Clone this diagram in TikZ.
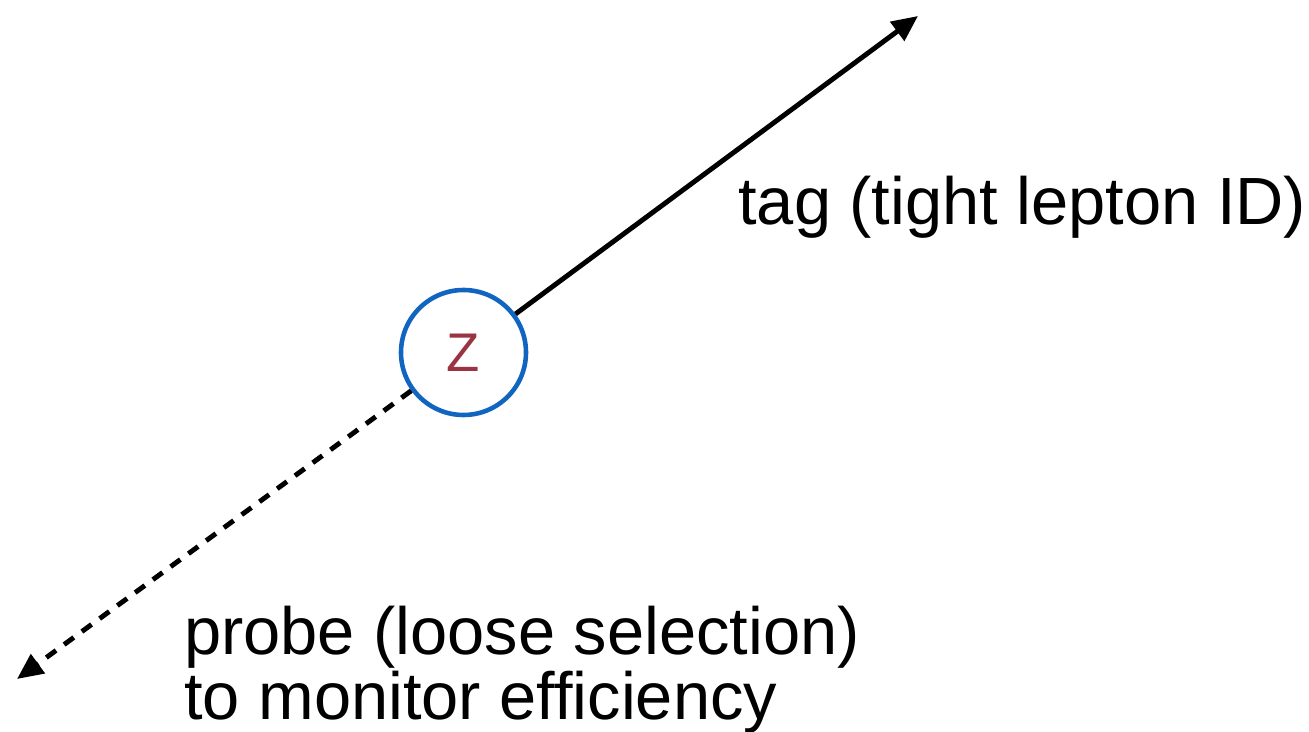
\documentclass[tikz,border=0pt]{standalone}
\usepackage{fontspec}
\setmainfont{Liberation Sans}
\usepackage{tikz}
\usetikzlibrary{arrows.meta}
\definecolor{zblue}{RGB}{16,101,192}
\definecolor{zred}{RGB}{155,52,66}

\begin{document}
\begin{tikzpicture} [lepton/.style = {line width = 2.8pt, -{Triangle[length=0.52cm, width=0.46cm]}},
	label/.style = {inner sep = 0pt, font = \fontsize{38}{37}\selectfont}]
	\useasboundingbox (0,0) rectangle (26.18,14.64);
	\node [circle, draw = zblue, line width = 2.6pt, minimum size = 2.5cm, text = zred, font = \fontsize{31}{36}\selectfont] (z) at (9.27,7.59) {Z};
	\coordinate (tagtip) at (18.36,14.32);
	\coordinate (probetip) at (0.34,1.06);
	\draw [lepton] (z) -- (tagtip);
	\draw [lepton, dash pattern = on 0.24cm off 0.2cm] (z) -- (probetip);
	\node [label, anchor = base west] (tag) at (14.76,10.14) {tag (tight lepton ID)};
	%\node [label] at (5,2) {probe};
	\node [label, anchor = base west, align = left] (probe) at (3.68,0.24) {probe (loose selection)\\to monitor efficiency};
\end{tikzpicture}
\end{document}
